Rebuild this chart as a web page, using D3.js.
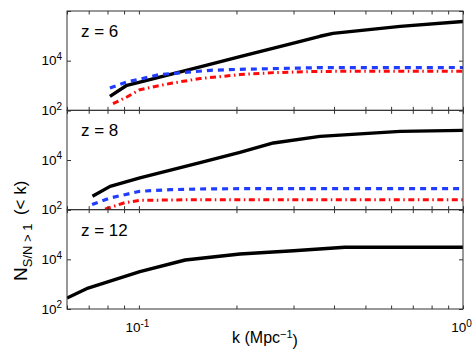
<!DOCTYPE html>
<html>
<head>
<meta charset="utf-8">
<script src="https://cdn.jsdelivr.net/npm/d3@7"></script>
<style>
  body { margin: 0; background: #fff; }
  svg text { font-family: "Liberation Sans", Arial, Helvetica, sans-serif; fill: #000; }
</style>
</head>
<body>
<div id="chart"></div>
<script>

// k in Mpc^-1, N = number of modes with S/N > 1 below k
var panelLabels = ["z = 6", "z = 8", "z = 12"];

var kBlack6 = [0.0814, 0.0918, 0.1007, 0.1545, 0.205, 0.3, 0.362, 0.397, 0.64, 1.0];
var nBlack6 = [366, 1020, 1380, 5600, 14500, 51000, 96000, 126000, 240000, 380000];
var kBlue6  = [0.0814, 0.0918, 0.116, 0.166, 0.205, 0.362, 1.0];
var nBlue6  = [790, 1380, 2760, 4100, 4470, 5250, 5300];
var kRed6   = [0.0832, 0.0918, 0.1007, 0.127, 0.1545, 0.205, 0.26, 0.362, 1.0];
var nRed6   = [186, 345, 680, 1260, 1900, 2750, 3300, 3700, 3750];

var kBlack8 = [0.0719, 0.0815, 0.1007, 0.1545, 0.205, 0.26, 0.362, 0.64, 1.0];
var nBlack8 = [344, 867, 1890, 7820, 20300, 48500, 89500, 142000, 156000];
var kBlue8  = [0.0717, 0.0815, 0.1007, 0.125, 0.1545, 0.205, 1.0];
var nBlue8  = [160, 295, 550, 640, 680, 700, 700];
var kRed8   = [0.0786, 0.0906, 0.1007, 0.1545, 1.0];
var nRed8   = [105, 192, 237, 253, 253];

var kBlack12 = [0.06, 0.0697, 0.1007, 0.139, 0.205, 0.3, 0.432, 1.0];
var nBlack12 = [277, 700, 3180, 9400, 16400, 22300, 30500, 30500];

var xMajor = [0.1, 1];
var xMinor = [0.06, 0.07, 0.08, 0.09, 0.2, 0.3, 0.4, 0.5, 0.6, 0.7, 0.8, 0.9];
var yTicks = [1e2, 1e4, 1e6];
var yLabelled = [1e2, 1e4];

var panels = [
    { label: panelLabels[0], series: [
        { k: kBlack6, n: nBlack6, style: "solid" },
        { k: kBlue6,  n: nBlue6,  style: "dash" },
        { k: kRed6,   n: nRed6,   style: "dashdot" } ] },
    { label: panelLabels[1], series: [
        { k: kBlack8, n: nBlack8, style: "solid" },
        { k: kBlue8,  n: nBlue8,  style: "dash" },
        { k: kRed8,   n: nRed8,   style: "dashdot" } ] },
    { label: panelLabels[2], series: [
        { k: kBlack12, n: nBlack12, style: "solid" } ] }
];

var styles = {
    solid:   { colour: "#000000", width: 3.4, dash: null },
    dash:    { colour: "#1f3cff", width: 3.2, dash: "6,5" },
    dashdot: { colour: "#ff0a0a", width: 3.0, dash: "6,3.5,1.5,3.5" }
};

var svgWidth = 474, svgHeight = 350;
var margin = { top: 11, right: 11, bottom: 41, left: 67 };
var width = svgWidth - margin.left - margin.right;
var plotHeight = svgHeight - margin.top - margin.bottom;
var panelHeight = plotHeight / panels.length;

var svg = d3.select("#chart").append("svg")
    .attr("width", svgWidth)
    .attr("height", svgHeight);

var xscale = d3.scaleLog()
    .domain([0.06, 1])
    .range([0, width]);

var yscale = d3.scaleLog()
    .domain([1e2, 1e6])
    .range([panelHeight, 0]);

var line = d3.line()
    .x(d => xscale(d[0]))
    .y(d => yscale(d[1]));

function pow10Label(sel, exp, size) {
    sel.text("");
    sel.append("tspan").text("10");
    sel.append("tspan")
        .attr("dy", "-0.55em")
        .style("font-size", size + "px")
        .text(exp);
}

panels.forEach(function (p, i) {

    var g = svg.append("g")
        .attr("transform", "translate(" + margin.left + "," + (margin.top + i * panelHeight) + ")");

    var clipId = "clip-" + i;
    g.append("clipPath")
        .attr("id", clipId)
        .append("rect")
            .attr("width", width)
            .attr("height", panelHeight);

    p.series.forEach(function (s) {
        var st = styles[s.style];
        g.append("path")
            .datum(s.k.map((k, j) => [k, s.n[j]]))
            .attr("clip-path", "url(#" + clipId + ")")
            .attr("fill", "none")
            .attr("stroke", st.colour)
            .attr("stroke-width", st.width)
            .attr("stroke-dasharray", st.dash)
            .attr("stroke-linejoin", "round")
            .attr("d", line);
    });

    // inward ticks on all four sides
    var xb = d3.axisBottom(xscale).tickValues(xMajor.concat(xMinor)).tickSizeInner(-3.5).tickSizeOuter(0).tickPadding(7).tickFormat("");
    var xt = d3.axisTop(xscale).tickValues(xMajor.concat(xMinor)).tickSizeInner(-3.5).tickSizeOuter(0).tickFormat("");
    var yl = d3.axisLeft(yscale).tickValues(yTicks).tickSizeInner(-4).tickSizeOuter(0).tickPadding(5).tickFormat("");
    var yr = d3.axisRight(yscale).tickValues(yTicks).tickSizeInner(-4).tickSizeOuter(0).tickFormat("");

    var gXb = g.append("g").attr("class", "axis--x").attr("transform", "translate(0," + panelHeight + ")").call(xb);
    g.append("g").attr("class", "axis--x").call(xt);
    var gYl = g.append("g").attr("class", "axis--y").call(yl);
    g.append("g").attr("class", "axis--y").attr("transform", "translate(" + width + ",0)").call(yr);

    g.selectAll(".domain").remove();
    g.selectAll(".tick line").attr("stroke", "#333");

    gYl.selectAll(".tick text")
        .filter(d => yLabelled.indexOf(d) >= 0)
        .style("font-size", "13.5px")
        .each(function (d) { pow10Label(d3.select(this), Math.round(Math.log10(d)), 10); });

    if (i == panels.length - 1) {
        gXb.selectAll(".tick text")
            .filter(d => xMajor.indexOf(d) >= 0)
            .style("font-size", "13.5px")
            .attr("dy", "1.2em")
            .attr("dx", "-2")
            .each(function (d) { pow10Label(d3.select(this), Math.round(Math.log10(d)), 10); });
    }

    g.append("rect")
        .attr("width", width)
        .attr("height", panelHeight)
        .attr("fill", "none")
        .attr("stroke", "#333")
        .attr("stroke-width", 1);

    g.append("text")
        .attr("x", 14)
        .attr("y", 26)
        .style("font-size", "17px")
        .text(p.label);
});

// axis titles
var xTitle = svg.append("text")
    .attr("x", margin.left + width / 2)
    .attr("y", 343)
    .attr("text-anchor", "middle")
    .style("font-size", "16px");
xTitle.append("tspan").text("k (Mpc");
xTitle.append("tspan").attr("dy", "-0.5em").style("font-size", "11px").text("\u22121");
xTitle.append("tspan").attr("dy", "0.5em").text(")");

var yTitle = svg.append("text")
    .attr("transform", "translate(27,281) rotate(-90)")
    .style("font-size", "19px");
yTitle.append("tspan").text("N");
yTitle.append("tspan").attr("dy", "0.35em").style("font-size", "13px").text("S/N > 1");
yTitle.append("tspan").attr("dy", "-0.35em").style("font-size", "17px").text("\u2002(< k)");

</script>
</body>
</html>
